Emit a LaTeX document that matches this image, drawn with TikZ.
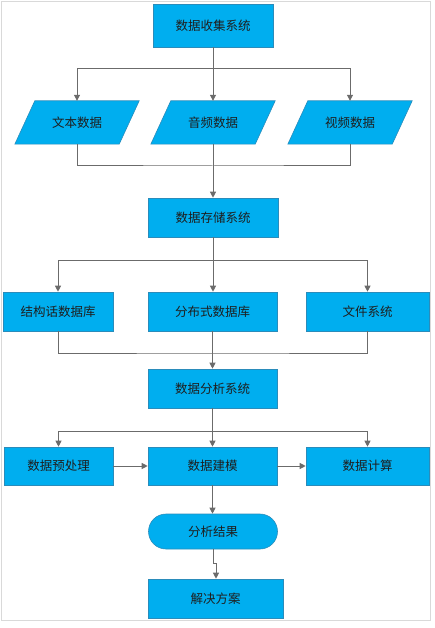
\documentclass[tikz,border=0pt]{standalone}
\usepackage{fontspec}
\newfontfamily\cjk{Noto Sans CJK SC}
\usetikzlibrary{arrows.meta,shapes.misc}
\definecolor{boxfill}{HTML}{00AEEF}
\definecolor{boxline}{HTML}{2A8CBB}
\definecolor{txt}{HTML}{1E1E1E}
\definecolor{conn}{HTML}{6B6B6B}
\definecolor{frame}{HTML}{D9D9D9}
\tikzset{
  box/.style={rectangle, draw=boxline, line width=0.6bp, fill=boxfill, text=txt,
    font=\cjk\fontsize{12.5bp}{14bp}\selectfont, inner sep=0pt, anchor=center},
  para/.style={rectangle, text=txt, font=\cjk\fontsize{12.5bp}{14bp}\selectfont,
    inner sep=0pt, minimum width=104bp, minimum height=43bp},
  term/.style={box, rounded rectangle},
  conline/.style={draw=conn, line width=1bp},
  arr/.style={conline, -{Triangle[length=6bp,width=6bp]}},
}
\begin{document}
\begin{tikzpicture}[x=1bp,y=-1bp]
\useasboundingbox (0,0) rectangle (435,628);
\draw[frame, line width=0.8bp] (1.5,1.5) rectangle (430.5,620.5);

% top
\node[box, minimum width=120bp, minimum height=43bp] (c1) at (213,25.5) {数据收集系统};

% parallelograms
\node[para] (p1) at (77,122.5) {};
\node[para] (p2) at (213,122.5) {};
\node[para] (p3) at (350,122.5) {};
\foreach \p in {p1,p2,p3}{
  \fill[boxfill, draw=boxline, line width=0.6bp]
    ([xshift=10bp]\p.north west) -- ([xshift=10bp]\p.north east)
    -- ([xshift=-10bp]\p.south east) -- ([xshift=-10bp]\p.south west) -- cycle;
}
\node[para] at (p1) {文本数据};
\node[para] at (p2) {音频数据};
\node[para] at (p3) {视频数据};

\node[box, minimum width=130bp, minimum height=39bp] (s1) at (213,217.5) {数据存储系统};

\node[box, minimum width=110bp, minimum height=39bp] (r1) at (58,311.5) {结构话数据库};
\node[box, minimum width=129bp, minimum height=39bp] (r2) at (212.5,311.5) {分布式数据库};
\node[box, minimum width=123bp, minimum height=39bp] (r3) at (367.5,311.5) {文件系统};

\node[box, minimum width=129bp, minimum height=39bp] (a1) at (212.5,388.5) {数据分析系统};

\node[box, minimum width=109bp, minimum height=38bp] (d1) at (58.5,466) {数据预处理};
\node[box, minimum width=129bp, minimum height=38bp] (d2) at (212.5,466) {数据建模};
\node[box, minimum width=123bp, minimum height=38bp] (d3) at (367.5,466) {数据计算};

\node[term, minimum width=129bp, minimum height=35bp] (t1) at (213,531.5) {分析结果};

\node[box, minimum width=135bp, minimum height=39bp] (f1) at (215.5,598.5) {解决方案};

% junction points
\coordinate (b1) at (213,69);
\coordinate (m1) at (213,166);
\coordinate (b2) at (213,260);
\coordinate (m2) at (213,353);
\coordinate (b3) at (213,431);
\coordinate (j1) at (213,563);
\coordinate (j2) at (216,563);

% connectors: collection -> data types
\draw[arr] (c1.south) -- (p2.north);
\draw[arr] (b1) -| (p1.north);
\draw[arr] (b1) -| (p3.north);
% data types -> storage
\draw[conline] (p1.south) |- (m1) -| (p3.south);
\draw[arr] (p2.south) -- (s1.north);
% storage -> stores
\draw[arr] (s1.south) -- (s1.south |- r2.north);
\draw[arr] (b2) -| (r1.north);
\draw[arr] (b2) -| (r3.north);
% stores -> analysis
\draw[conline] (r1.south) |- (m2) -| (r3.south);
\draw[arr] (r2.south) -- (a1.north);
% analysis -> steps
\draw[arr] (a1.south) -- (d2.north);
\draw[arr] (b3) -| (d1.north);
\draw[arr] (b3) -| (d3.north);
\draw[arr] (d1.east) -- (d2.west);
\draw[arr] (d2.east) -- (d3.west);
% modeling -> result -> solution
\draw[arr] (d2.south) -- (d2.south |- t1.north);
\draw[arr] (t1.south) -- (j1) -- (j2) -- (j2 |- f1.north);
\end{tikzpicture}
\end{document}
